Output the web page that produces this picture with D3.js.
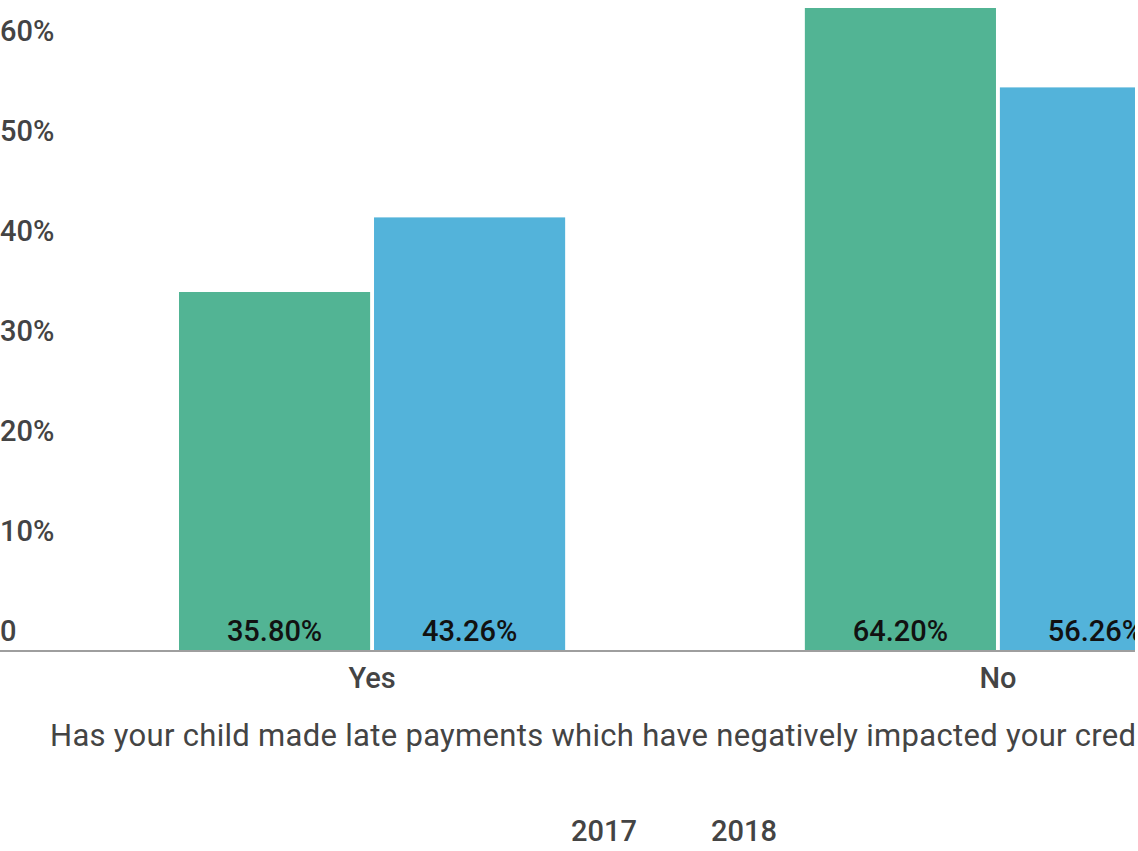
<!DOCTYPE html>
<html>
<head>
<meta charset="utf-8">
<script src="https://cdn.jsdelivr.net/npm/d3@7"></script>
<style>
  html, body { margin: 0; padding: 0; background: #fff; overflow: hidden; }
  svg { display: block; font-family: Roboto, "Noto Sans", sans-serif; }
</style>
</head>
<body>
<script>
// Survey answers, share of respondents per year
const categories = ["Yes", "No"];
const years = ["2017", "2018"];
const values2017 = [35.80, 64.20];
const values2018 = [43.26, 56.26];
const yTicks = [0, 10, 20, 30, 40, 50, 60];
const questionText = "Has your child made late payments which have negatively impacted your credit?";

const colors = { "2017": "#52b494", "2018": "#53b3da" };
const W = 1138, H = 851;
const visibleRight = 1135;

const svg = d3.select("body").append("svg")
  .attr("width", W).attr("height", H);

svg.append("defs").append("clipPath").attr("id", "clip")
  .append("rect").attr("x", 0).attr("y", 0).attr("width", visibleRight).attr("height", H);

const g = svg.append("g").attr("clip-path", "url(#clip)");

const y = d3.scaleLinear().domain([0, 60]).range([650, 50]);
const x0 = d3.scaleBand().domain(categories).range([0, 1370])
  .paddingInner(0.383).paddingOuter(0.286);
const x1 = d3.scaleBand().domain(years).range([0, x0.bandwidth()]).paddingInner(0.02);

const rows = categories.map((c, i) => ({
  cat: c,
  vals: [{ year: "2017", v: values2017[i] }, { year: "2018", v: values2018[i] }]
}));

const labelStyle = sel => sel
  .attr("font-size", 29).attr("font-weight", 500);

// y tick labels, sitting just above their value line
g.append("g").selectAll("text").data(yTicks).join("text")
  .attr("x", 0).attr("y", d => y(d) - 9)
  .attr("fill", "#444")
  .call(labelStyle)
  .text(d => d === 0 ? "0" : d + "%");

// bars
const groups = g.append("g").selectAll("g").data(rows).join("g")
  .attr("transform", d => `translate(${x0(d.cat)},0)`);

groups.selectAll("rect").data(d => d.vals).join("rect")
  .attr("x", d => x1(d.year)).attr("width", x1.bandwidth())
  .attr("y", d => y(d.v)).attr("height", d => y(0) - y(d.v))
  .attr("fill", d => colors[d.year]);

groups.selectAll("text").data(d => d.vals).join("text")
  .attr("x", d => x1(d.year) + x1.bandwidth() / 2).attr("y", y(0) - 9)
  .attr("text-anchor", "middle").attr("fill", "#111")
  .call(labelStyle)
  .text(d => d.v.toFixed(2) + "%");

// baseline
g.append("line").attr("x1", 0).attr("x2", 1370).attr("y1", 651).attr("y2", 651)
  .attr("stroke", "#9e9e9e").attr("stroke-width", 2);

// category labels
g.append("g").selectAll("text").data(categories).join("text")
  .attr("x", d => x0(d) + x0.bandwidth() / 2).attr("y", 688)
  .attr("text-anchor", "middle").attr("fill", "#444")
  .call(labelStyle)
  .text(d => d);

// axis title
g.append("text").attr("x", 50).attr("y", 746)
  .attr("fill", "#444").attr("font-size", 31).attr("letter-spacing", 0.3)
  .text(questionText);

// legend
g.append("g").selectAll("text").data(years).join("text")
  .attr("x", (d, i) => 571 + i * 140).attr("y", 841)
  .attr("fill", "#444")
  .call(labelStyle)
  .text(d => d);
</script>
</body>
</html>
